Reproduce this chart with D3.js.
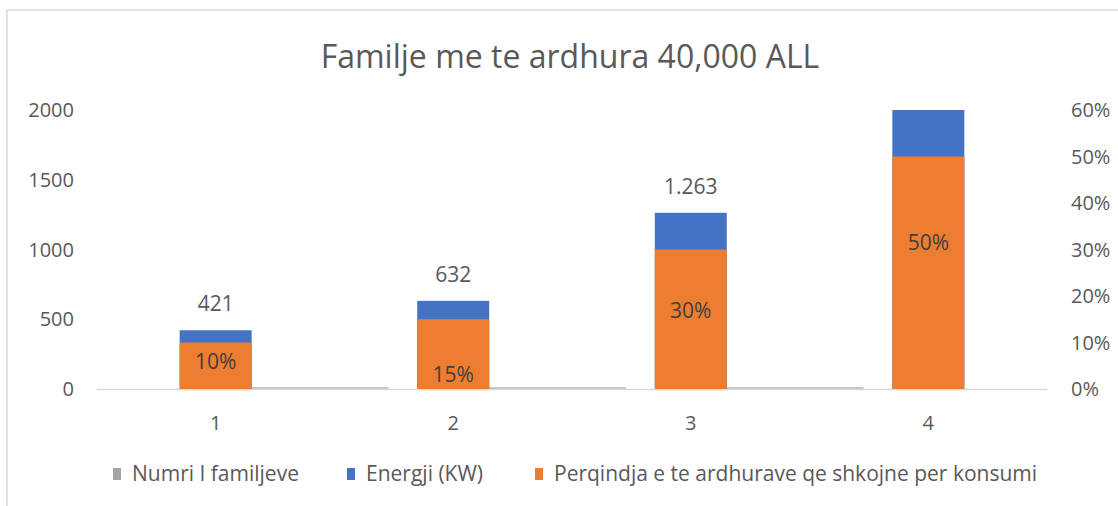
<!DOCTYPE html>
<html>
<head>
<meta charset="utf-8">
<script src="https://cdn.jsdelivr.net/npm/d3@7"></script>
<style>
  body { margin: 0; background: #fff; }
  svg text { font-family: "Open Sans", Lato, sans-serif; fill: #595959; }
</style>
</head>
<body>
<svg id="chart" width="1118" height="506"></svg>
<script>
// chart data
var categories = ["1", "2", "3", "4"];
var familjeVals = [1, 2, 3, 0];            // Numri I familjeve (tiny, sits on baseline)
var energjiVals = [421, 632, 1263, 2105];   // Energji (KW), last one runs past the axis
var perqindjaVals = [0.10, 0.15, 0.30, 0.50];
var leftTicks = [0, 500, 1000, 1500, 2000];
var rightTicks = [0, 0.1, 0.2, 0.3, 0.4, 0.5, 0.6];
var seriesNames = ["Numri I familjeve", "Energji (KW)", "Perqindja e te ardhurave qe shkojne per konsumi"];
var seriesColors = ["#A5A5A5", "#4472C4", "#ED7D31"];

var svg = d3.select("#chart");

// chart frame
svg.append("rect")
    .attr("x", 7).attr("y", 10)
    .attr("width", 1130).attr("height", 520)
    .attr("fill", "none")
    .style("stroke", "#d9d9d9")
    .style("stroke-width", 1.5);

var plotL = 97, plotR = 1047, plotT = 110, plotB = 389;

var x = d3.scaleBand().domain(categories).range([plotL, plotR]).paddingInner(0.697).paddingOuter(0.348);
var y = d3.scaleLinear().domain([0, 2000]).range([plotB, plotT]).clamp(true);
var y2 = d3.scaleLinear().domain([0, 0.6]).range([plotB, plotT]);

var fmtNum = d3.formatLocale({decimal: ",", thousands: ".", grouping: [3], currency: ["", ""]}).format(",d");

// title
svg.append("text")
    .attr("x", 570).attr("y", 68)
    .attr("text-anchor", "middle")
    .style("font-size", "32px")
    .text("Familje me te ardhura 40,000 ALL");

// left axis labels
svg.append("g").selectAll("text")
    .data(leftTicks).enter().append("text")
    .attr("x", 74)
    .attr("y", d => y(d))
    .attr("dy", "0.35em")
    .attr("text-anchor", "end")
    .style("font-size", "20px")
    .text(d => d);

// right axis labels
svg.append("g").selectAll("text")
    .data(rightTicks).enter().append("text")
    .attr("x", 1071)
    .attr("y", d => y2(d))
    .attr("dy", "0.35em")
    .style("font-size", "20px")
    .text(d => d3.format(".0%")(d));

// baseline
svg.append("line")
    .attr("x1", plotL).attr("x2", plotR)
    .attr("y1", plotB + 0.5).attr("y2", plotB + 0.5)
    .style("stroke", "#d9d9d9")
    .style("stroke-width", 1.5);

// gray series, almost flat on the baseline
svg.append("g").selectAll("rect")
    .data(familjeVals).enter().append("rect")
    .attr("x", (d, i) => x(categories[i]) + x.bandwidth())
    .attr("width", x.bandwidth() * 1.9)
    .attr("y", d => d > 0 ? Math.min(y(d), plotB - 2) : plotB)
    .attr("height", d => d > 0 ? Math.max(plotB - y(d), 2) : 0)
    .attr("fill", seriesColors[0])
    .attr("opacity", 0.6);

// blue bars (primary axis)
svg.append("g").selectAll("rect")
    .data(energjiVals).enter().append("rect")
    .attr("x", (d, i) => x(categories[i]))
    .attr("width", x.bandwidth())
    .attr("y", d => y(d))
    .attr("height", d => plotB - y(d))
    .attr("fill", seriesColors[1]);

// orange bars (secondary axis)
svg.append("g").selectAll("rect")
    .data(perqindjaVals).enter().append("rect")
    .attr("x", (d, i) => x(categories[i]))
    .attr("width", x.bandwidth())
    .attr("y", d => y2(d))
    .attr("height", d => plotB - y2(d))
    .attr("fill", seriesColors[2]);

// blue value labels (hidden when the bar runs off the axis)
svg.append("g").selectAll("text")
    .data(energjiVals.filter(d => d <= 2000)).enter().append("text")
    .attr("x", (d, i) => x(categories[i]) + x.bandwidth() / 2)
    .attr("y", d => y(d) - 19)
    .attr("text-anchor", "middle")
    .style("font-size", "21px")
    .text(d => fmtNum(d));

// orange labels, moved by hand inside the bars in the original
var labelFrac = [0.58, 0.21, 0.56, 0.63];
svg.append("g").selectAll("text")
    .data(perqindjaVals).enter().append("text")
    .attr("x", (d, i) => x(categories[i]) + x.bandwidth() / 2)
    .attr("y", (d, i) => y2(d * labelFrac[i]))
    .attr("dy", "0.35em")
    .attr("text-anchor", "middle")
    .style("font-size", "21px")
    .style("fill", "#404040")
    .text(d => d3.format(".0%")(d));

// category labels
svg.append("g").selectAll("text")
    .data(categories).enter().append("text")
    .attr("x", d => x(d) + x.bandwidth() / 2)
    .attr("y", 423)
    .attr("dy", "0.35em")
    .attr("text-anchor", "middle")
    .style("font-size", "20px")
    .text(d => d);

// legend
var legendX = [113, 347, 535];
var size = 8;
var lg = svg.append("g").selectAll("g")
    .data(seriesNames).enter().append("g")
    .attr("transform", (d, i) => "translate(" + legendX[i] + ",474)");
lg.append("rect")
    .attr("x", 0).attr("y", -size / 2 - 2)
    .attr("width", size).attr("height", size + 4)
    .style("fill", (d, i) => seriesColors[i]);
lg.append("text")
    .attr("x", size + 11)
    .attr("dy", "0.35em")
    .style("font-size", "21px")
    .text(d => d);
</script>
</body>
</html>
